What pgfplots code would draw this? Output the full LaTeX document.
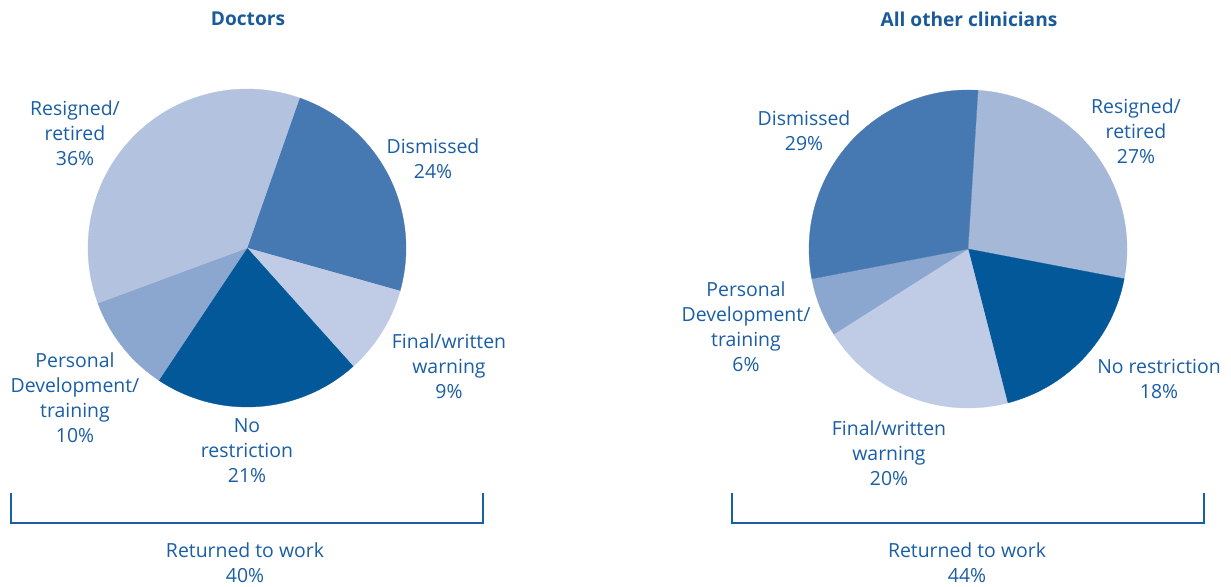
\documentclass[border=0pt]{standalone}
\usepackage{pgfplots}
\pgfplotsset{compat=1.18}
\usepackage{fontspec}
\setmainfont{Open Sans}
\definecolor{txt}{HTML}{1A5EA5}
\definecolor{ttl}{HTML}{1B5A9A}
\definecolor{cDis}{HTML}{4678B2}
\definecolor{cRes}{HTML}{B3C2DF}
\definecolor{cResB}{HTML}{A5B8D8}
\definecolor{cFin}{HTML}{C0CBE5}
\definecolor{cNo}{HTML}{025899}
\definecolor{cPer}{HTML}{8BA6CF}
% #1 cx, #2 cy, #3 start angle, #4 cumulative % before, #5 slice %, #6 colour
\newcommand\slice[6]{%
  \addplot[fill=#6, draw=#6, line width=0.3pt, domain=#3-3.6*(#4+#5):#3-3.6*(#4), samples=90, variable=\t]
    ({#1+159*cos(\t)},{#2+159*sin(\t)}) -- (axis cs:#1,#2) -- cycle;}
\tikzset{lab/.style={text=txt, align=center, font=\fontsize{19.5}{25}\selectfont, inner sep=0pt}}
\begin{document}
\begin{tikzpicture}
\begin{axis}[x=1bp, y=1bp, xmin=0, xmax=1231, ymin=0, ymax=587,
  hide axis, clip=false, scale only axis]
\path (axis cs:0,0) rectangle (axis cs:1231,587);
% Doctors: Dismissed 24, Final/written 9, No restriction 21, Personal dev 10, Resigned 36
\slice{247}{339}{70.7}{0}{24}{cDis}
\slice{247}{339}{70.7}{24}{9}{cFin}
\slice{247}{339}{70.7}{33}{21}{cNo}
\slice{247}{339}{70.7}{54}{10}{cPer}
\slice{247}{339}{70.7}{64}{36}{cRes}
% Other clinicians: Resigned 27, No restriction 18, Final/written 20, Personal dev 6, Dismissed 29
\slice{968}{338}{86.4}{0}{27}{cResB}
\slice{968}{338}{86.4}{27}{18}{cNo}
\slice{968}{338}{86.4}{45}{20}{cFin}
\slice{968}{338}{86.4}{65}{6}{cPer}
\slice{968}{338}{86.4}{71}{29}{cDis}
% titles
\node[text=ttl, font=\fontsize{19.2}{22}\selectfont\bfseries, inner sep=0pt] at (axis cs:248,568) {Doctors};
\node[text=ttl, font=\fontsize{19.2}{22}\selectfont\bfseries, inner sep=0pt] at (axis cs:969,568) {All other clinicians};
% doctors labels
\node[lab] at (axis cs:75,454) {Resigned/\\retired\\36\%};
\node[lab] at (axis cs:433,428.5) {Dismissed\\24\%};
\node[lab] at (axis cs:449,221) {Final/written\\warning\\9\%};
\node[lab] at (axis cs:75,189) {Personal\\Development/\\training\\10\%};
\node[lab] at (axis cs:247,136) {No\\restriction\\21\%};
\node[lab] at (axis cs:245,24.5) {Returned to work\\40\%};
\draw[txt, line width=1.3pt] (axis cs:11,94) -- (axis cs:11,64) -- (axis cs:483,64) -- (axis cs:483,94);
% clinicians labels
\node[lab] at (axis cs:804,456) {Dismissed\\29\%};
\node[lab] at (axis cs:1136,455.5) {Resigned/\\retired\\27\%};
\node[lab] at (axis cs:746,260) {Personal\\Development/\\training\\6\%};
\node[lab] at (axis cs:1159,208) {No restriction\\18\%};
\node[lab] at (axis cs:889,134) {Final/written\\warning\\20\%};
\node[lab] at (axis cs:967,24.5) {Returned to work\\44\%};
\draw[txt, line width=1.3pt] (axis cs:732,94) -- (axis cs:732,64) -- (axis cs:1204,64) -- (axis cs:1204,94);
\end{axis}
\end{tikzpicture}
\end{document}
